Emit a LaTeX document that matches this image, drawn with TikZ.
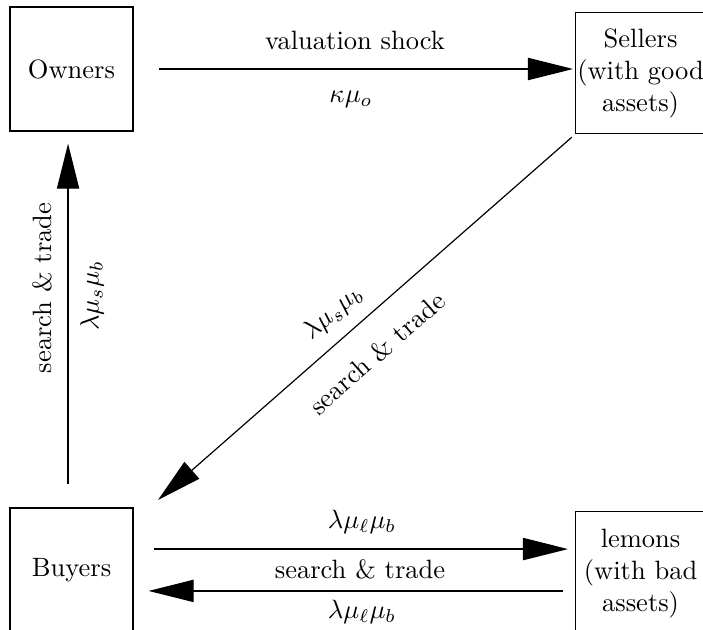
\documentclass[tikz,border=0pt]{standalone}
\usetikzlibrary{arrows.meta}
\begin{document}
\begin{tikzpicture}[x=0.3774pt,y=-0.3774pt,
  box/.style={draw,line width=0.5pt,inner sep=0pt,minimum width=46.4pt,minimum height=46.8pt,align=center},
  arr/.style={-{Triangle[length=17pt,width=8.4pt]},line width=0.45pt},
  lbl/.style={inner sep=0pt}]
\useasboundingbox (0,0) rectangle (703,630);
\clip (0,0) rectangle (703,630);
% boxes
\node[box] (own) at (71.5,69) {Owners};
\node[box,minimum width=49pt,minimum height=45.7pt,anchor=north west] (sel) at (575,12) {Sellers\\(with good\\assets)};
\node[box] (buy) at (71.5,570) {Buyers};
\node[box,minimum width=49pt,anchor=north west] (lem) at (575,511) {lemons\\(with bad\\assets)};
\coordinate (dtip) at (158,500);
% connectors
\draw[arr,shorten <=9.43pt,shorten >=0.75pt] (own.east) -- (own.east -| sel.west);
\draw[arr,shorten <=8.68pt,shorten >=4.53pt] ([xshift=-1.3pt]buy.north) -- ([xshift=-1.3pt]own.south);
\draw[arr,shorten <=1.6pt] (sel.south west) -- (dtip);
\draw[arr,shorten <=7.55pt,shorten >=2.64pt] ([yshift=7.9pt]buy.east) -- ([yshift=7.9pt]buy.east -| lem.west);
\draw[arr,shorten <=4.5pt,shorten >=5.66pt] ([yshift=-7.9pt]buy.east -| lem.west) -- ([yshift=-7.9pt]buy.east);
% labels
\node[lbl] (l1) at (355,40) {valuation shock};
\node[lbl] (l2) at (351,99) {$\kappa\mu_o$};
\node[lbl,rotate=90] (l3) at (42,288) {search \& trade};
\node[lbl,rotate=90] (l4) at (92,296) {$\lambda\mu_s\mu_b$};
\node[lbl,rotate=41.3] (l5) at (333,313) {$\lambda\mu_s\mu_b$};
\node[lbl,rotate=41.3] (l6) at (377,353) {search \& trade};
\node[lbl] (l7) at (362,522) {$\lambda\mu_\ell\mu_b$};
\node[lbl] (l8) at (360,569) {search \& trade};
\node[lbl] (l9) at (362,612) {$\lambda\mu_\ell\mu_b$};
\end{tikzpicture}
\end{document}
